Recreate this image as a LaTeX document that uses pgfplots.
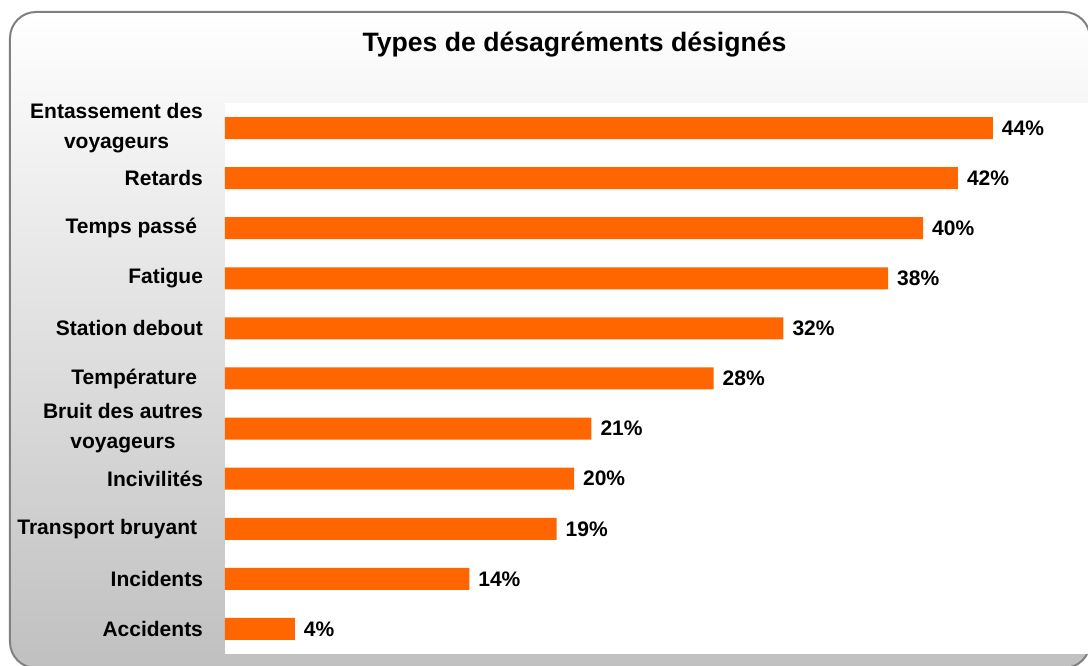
\documentclass[border=0pt]{standalone}
\usepackage{fontspec}
\setmainfont{Liberation Sans}
\usepackage{pgfplots}
\pgfplotsset{compat=1.18}
\definecolor{barorange}{HTML}{FF6600}
\definecolor{framegray}{HTML}{808080}
\definecolor{bgbottom}{HTML}{C0C0C0}

\begin{document}
\begin{tikzpicture}
% chart area: rounded frame with a light vertical gradient
\shade[top color=white, bottom color=bgbottom, draw=framegray, line width=1pt,
       rounded corners=13pt] (-107.5pt,-7pt) rectangle (432.5pt,321pt);
\begin{axis}[
    at={(0pt,0pt)}, anchor=south west,
    scale only axis, width=431.5pt, height=275.5pt,
    xbar, bar width=11pt,
    xmin=0, xmax=49.45, ymin=-0.5, ymax=10.5,
    axis line style={draw=none},
    axis background/.style={fill=white},
    xtick=\empty, ytick={0,...,10}, major tick length=0pt,
    yticklabels={Accidents, Incidents, Transport bruyant\ , Incivilités,
        {Bruit des autres\\voyageurs}, Température\ , Station debout, Fatigue,
        Temps passé\ , Retards, {Entassement des\\voyageurs}},
    yticklabel style={font=\fontsize{10.5}{15}\selectfont\bfseries,
        align=center, xshift=-7.5pt},
    point meta=x,
    nodes near coords={\pgfmathprintnumber[assume math mode=true]{\pgfplotspointmeta}\%},
    nodes near coords style={font=\fontsize{10.5}{13}\selectfont\bfseries,
        anchor=west, xshift=1pt},
    clip=false,
]
\addplot[fill=barorange, draw=none] coordinates {
    (4,0) (14,1) (19,2) (20,3) (21,4) (28,5) (32,6) (38,7) (40,8) (42,9) (44,10)
};
\end{axis}
\node[font=\fontsize{13.3}{16}\selectfont\bfseries] at (174.75pt,304.5pt)
    {Types de désagréments désignés};
\pgfresetboundingbox
\path[use as bounding box] (-112.5pt,-5.5pt) rectangle (431.5pt,327pt);
\end{tikzpicture}
\end{document}
